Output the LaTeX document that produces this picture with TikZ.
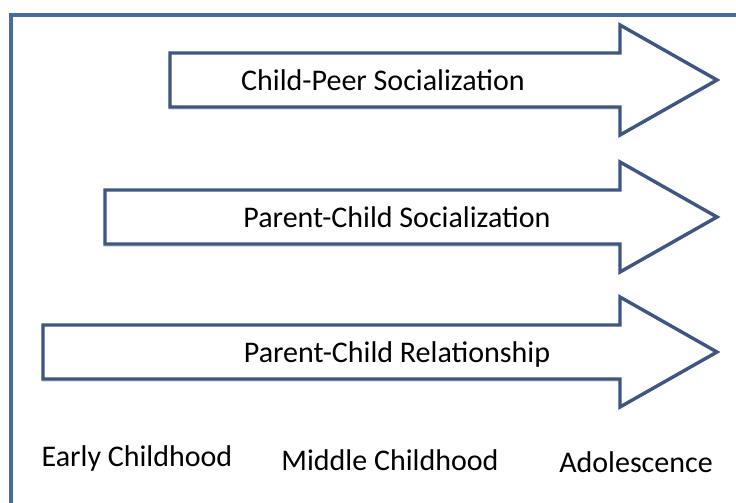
\documentclass[tikz,border=0pt]{standalone}
\usepackage{fontspec}
\setmainfont{Carlito}
\usetikzlibrary{shadows,positioning}
\definecolor{edgeblue}{RGB}{62,86,128}
\definecolor{frameblue}{RGB}{74,106,154}

\begin{document}
\begin{tikzpicture}[x=1pt,y=-1pt]
        \tikzstyle{stage} = [draw=edgeblue, line width=3.4pt, fill=white, line join=miter,
            drop shadow={opacity=0.35, shadow xshift=-1.5pt, shadow yshift=-2.5pt}]
        \tikzstyle{label} = [font=\fontsize{30}{36}\selectfont, text=black, inner sep=0pt]

        \useasboundingbox (0,0) rectangle (736,503);
        \clip (0,0) rectangle (736,503);
        \fill[white] (0,0) rectangle (736,503);
        \draw[frameblue, line width=3.2pt] (11,15) rectangle (745,515);

        % arrows, top to bottom
        \draw[stage] (170,53) -- (620,53) -- (620,25) -- (717,80) -- (620,135) -- (620,107) -- (170,107) -- cycle;
        \draw[stage] (105,190) -- (620,190) -- (620,162) -- (717,217) -- (620,272) -- (620,244) -- (105,244) -- cycle;
        \draw[stage] (43,325) -- (620,325) -- (620,297) -- (717,352) -- (620,407) -- (620,379) -- (43,379) -- cycle;

        \node [label] (peer) at (383,80) {Child-Peer Socialization};
        \node [label] (social) at (397,217) {Parent-Child Socialization};
        \node [label] (relation) at (397,354) {Parent-Child Relationship};

        \node [label] (early) at (137,458) {Early Childhood};
        \node [label] (middle) at (390,460) {Middle Childhood};
        \node [label] (adol) at (636,462) {Adolescence};
    \end{tikzpicture}
\end{document}
